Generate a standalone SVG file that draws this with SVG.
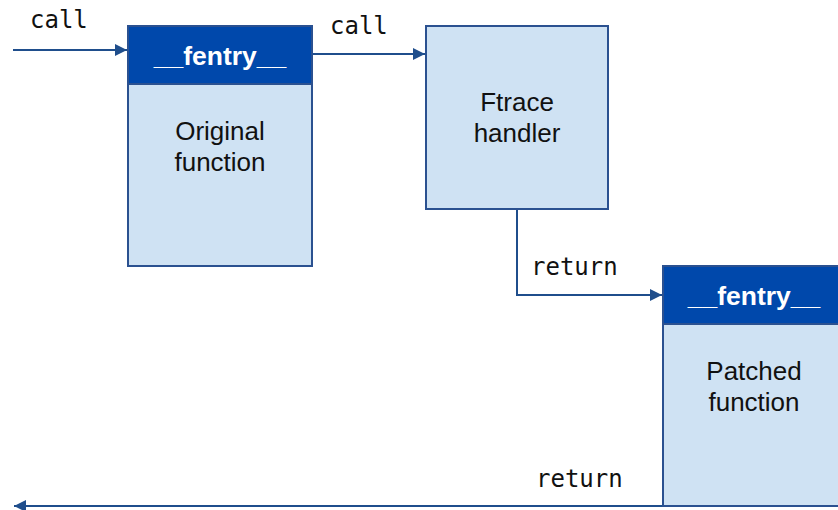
<svg xmlns="http://www.w3.org/2000/svg" width="838" height="510" viewBox="0 0 838 510">
  <defs>
    <marker id="arrow" viewBox="0 0 10 10" refX="10" refY="5" markerWidth="6" markerHeight="6" orient="auto" markerUnits="strokeWidth">
      <path d="M0,0 L10,5 L0,10 z" fill="#1f4e8c"/>
    </marker>
    <style>
      .body { fill: #cfe2f3; stroke: #2b5190; stroke-width: 2; }
      .head { fill: #0048ab; stroke: #2b5190; stroke-width: 2; }
      .htxt { font-family: "Liberation Sans", Arial, sans-serif; font-size: 26.5px; font-weight: bold; fill: #ffffff; text-anchor: middle; }
      .txt { font-family: "Liberation Sans", Arial, sans-serif; font-size: 26px; fill: #111111; text-anchor: middle; }
      .code { font-family: "DejaVu Sans Mono", monospace; font-size: 24px; fill: #111111; }
      .wire { fill: none; stroke: #1f4e8c; stroke-width: 2; }
    </style>
  </defs>

  <g id="connectors">
    <line class="wire" x1="13" y1="50" x2="127" y2="50" marker-end="url(#arrow)"/>
    <line class="wire" x1="312" y1="54" x2="425" y2="54" marker-end="url(#arrow)"/>
    <polyline class="wire" points="517,209 517,295 662,295" marker-end="url(#arrow)"/>
    <line class="wire" x1="663" y1="506" x2="14" y2="506" marker-end="url(#arrow)"/>
    <text class="code" x="30" y="28">call</text>
    <text class="code" x="330" y="34">call</text>
    <text class="code" x="531" y="275">return</text>
    <text class="code" x="536" y="487">return</text>
  </g>

  <g id="original-function">
    <rect class="body" x="128" y="26" width="184" height="240"/>
    <rect class="head" x="128" y="26" width="184" height="58"/>
    <text class="htxt" x="220" y="65">__fentry__</text>
    <text class="txt" x="220" y="140">Original</text>
    <text class="txt" x="220" y="171">function</text>
  </g>

  <g id="ftrace-handler">
    <rect class="body" x="426" y="26" width="182" height="183"/>
    <text class="txt" x="517" y="111">Ftrace</text>
    <text class="txt" x="517" y="142">handler</text>
  </g>

  <g id="patched-function">
    <rect class="body" x="663" y="266" width="190" height="240"/>
    <rect class="head" x="663" y="266" width="190" height="58"/>
    <text class="htxt" x="754" y="305">__fentry__</text>
    <text class="txt" x="754" y="380">Patched</text>
    <text class="txt" x="754" y="411">function</text>
  </g>
</svg>
